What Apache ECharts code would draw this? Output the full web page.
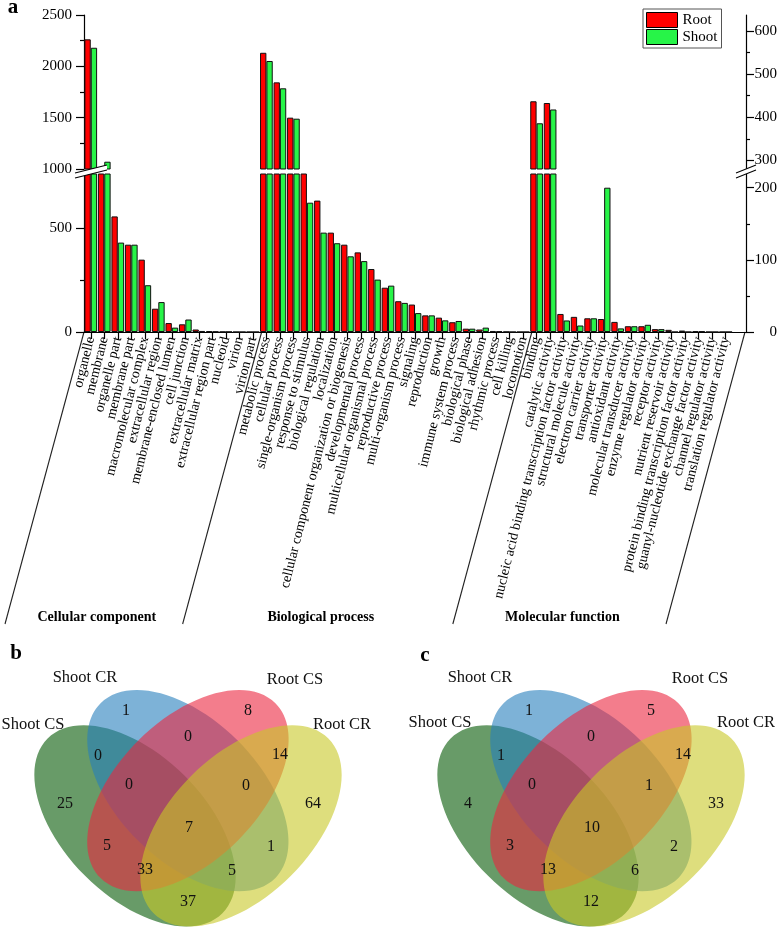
<!DOCTYPE html>
<html><head><meta charset="utf-8">
<script src="https://cdn.jsdelivr.net/npm/echarts@6/dist/echarts.min.js"></script>
<style>html,body{margin:0;padding:0;background:#fff}#c{width:778px;height:927px}</style>
</head><body><div id="c"></div>
<script>
const FONT = '"Times New Roman","Liberation Serif",serif';

// ---------- data ----------
const ccCategories = ['organelle','membrane','organelle part','membrane part','macromolecular complex','extracellular region','membrane-enclosed lumen','cell junction','extracellular matrix','extracellular region part','nucleoid','virion','virion part'];
const bpCategories = ['metabolic process','cellular process','single-organism process','response to stimulus','biological regulation','localization','cellular component organization or biogenesis','developmental process','multicellular organismal process','reproductive process','multi-organism process','signaling','reproduction','growth','immune system process','biological phase','biological adhesion','rhythmic process','cell killing','locomotion'];
const mfCategories = ['binding','catalytic activity','nucleic acid binding transcription factor activity','structural molecule activity','electron carrier activity','transporter activity','antioxidant activity','molecular transducer activity','enzyme regulator activity','receptor activity','nutrient reservoir activity','protein binding transcription factor activity','guanyl-nucleotide exchange factor activity','channel regulator activity','translation regulator activity'];

const ccRoot  = [2263, 1017, 556, 420, 348, 112, 43, 37, 12, 4, 1, 0, 0];
const ccShoot = [2181, 1071, 430, 420, 225, 144, 21, 60, 5, 2, 1, 0, 0];
const bpRoot  = [2132, 1844, 1500, 950, 632, 478, 420, 383, 303, 213, 148, 132, 80, 69, 47, 16, 12, 5, 1, 0];
const bpShoot = [2052, 1786, 1490, 622, 478, 427, 364, 341, 252, 223, 140, 91, 80, 56, 53, 16, 21, 3, 0, 0];
const mfRoot  = [437, 433, 25, 21, 19, 18, 14, 8, 8, 4, 3, 2, 1, 0, 0];
const mfShoot = [386, 418, 16, 9, 19, 200, 5, 8, 10, 4, 0, 0, 1, 0, 0];

const leftLowerTicks = [0, 500],  leftLowerMinor = [250];
const leftUpperTicks = [1000, 1500, 2000, 2500], leftUpperMinor = [1250, 1750, 2250];
const rightLowerTicks = [0, 100, 200], rightLowerMinor = [50, 150];
const rightUpperTicks = [300, 400, 500, 600], rightUpperMinor = [350, 450, 550];

const groupNames = ['Cellular component', 'Biological process', 'Molecular function'];
const seriesNames = ['Root', 'Shoot'];

const vennSets = ['Shoot CS', 'Shoot CR', 'Root CS', 'Root CR'];
// region order: SCR, RCS, SCS, RCR, SCS&SCR, SCR&RCS, RCS&RCR, SCS&SCR&RCS, SCR&RCS&RCR, all, SCS&RCS, SCR&RCR, SCS&RCS&RCR, SCS&SCR&RCR, SCS&RCR
const vennB = [1, 8, 25, 64, 0, 0, 14, 0, 0, 7, 5, 1, 33, 5, 37];
const vennC = [1, 5, 4, 33, 1, 0, 14, 0, 1, 10, 3, 2, 13, 6, 12];

// ---------- layout / style ----------
const RED = '#ff0000', GREEN = '#27f448';
const cats = ccCategories.concat(bpCategories, mfCategories, ['']);
const nCC = ccCategories.length, nBP = bpCategories.length, nMF = mfCategories.length;
const pad = n => Array(n).fill(null);
const leftRoot = ccRoot.concat(bpRoot, pad(nMF + 1));
const leftShoot = ccShoot.concat(bpShoot, pad(nMF + 1));
const rightRoot = pad(nCC + nBP).concat(mfRoot, [null]);
const rightShoot = pad(nCC + nBP).concat(mfShoot, [null]);

function xAx(grid, visible) {
  return {
    type: 'category', gridIndex: grid, data: cats, show: visible, boundaryGap: true,
    axisLine: { show: visible, lineStyle: { color: '#000', width: 1.2 } },
    axisTick: { show: visible, alignWithLabel: true, length: 7, interval: (i) => i < cats.length - 1, lineStyle: { color: '#000', width: 1.2 } },
    axisLabel: { show: visible, interval: 0, rotate: 76, margin: 5, color: '#000', fontFamily: FONT, fontSize: 14 },
    splitLine: { show: false }
  };
}
function yAx(grid, pos, min, max, ticks, len, main) {
  return {
    type: 'value', gridIndex: grid, position: pos, min: min, max: max, offset: 0,
    axisLine: { show: main, lineStyle: { color: '#000', width: 1.2 } },
    axisTick: { show: true, length: len, customValues: ticks, lineStyle: { color: '#000', width: 1.2 } },
    axisLabel: { show: main, customValues: ticks, formatter: v => String(v), color: '#000', fontFamily: FONT, fontSize: 15, margin: pos === 'left' ? 12 : 31, align: 'right' },
    splitLine: { show: false }
  };
}
function bar(name, xi, yi, data, color) {
  return {
    type: 'bar', name: name, xAxisIndex: xi, yAxisIndex: yi, data: data,
    barGap: '0%', barCategoryGap: '6%', clip: true,
    itemStyle: { color: color, borderColor: '#111', borderWidth: 1 },
    emphasis: { disabled: true }, animation: false
  };
}

const chart = echarts.init(document.getElementById('c'));
const option = {
  animation: false,
  backgroundColor: '#fff',
  grid: [
    { left: 84, right: 32, top: 174, height: 158, outerBoundsMode: 'none' },
    { left: 84, right: 32, top: 15, height: 154, outerBoundsMode: 'none' }
  ],
  xAxis: [xAx(0, true), xAx(0, false), xAx(1, false), xAx(1, false)],
  yAxis: [
    yAx(0, 'left', 0, 760, leftLowerTicks, 8, true),
    yAx(0, 'right', 0, 219, rightLowerTicks, 8, true),
    yAx(1, 'left', 1000, 2500, leftUpperTicks, 8, true),
    yAx(1, 'right', 280, 637, rightUpperTicks, 8, true),
    yAx(0, 'left', 0, 760, leftLowerMinor, 4, false),
    yAx(0, 'right', 0, 219, rightLowerMinor, 4, false),
    yAx(1, 'left', 1000, 2500, leftUpperMinor, 4, false),
    yAx(1, 'right', 280, 637, rightUpperMinor, 4, false)
  ],
  legend: {
    data: seriesNames, orient: 'vertical', left: 643, top: 9,
    itemWidth: 31, itemHeight: 15, itemGap: 1, padding: [3, 4, 3, 3],
    borderColor: '#555', borderWidth: 1, icon: 'rect',
    itemStyle: { borderColor: '#000', borderWidth: 1 },
    textStyle: { color: '#000', fontFamily: FONT, fontSize: 15 },
    selectedMode: false
  },
  series: [
    bar(seriesNames[0], 0, 0, leftRoot, RED), bar(seriesNames[1], 0, 0, leftShoot, GREEN),
    bar(seriesNames[0], 1, 1, rightRoot, RED), bar(seriesNames[1], 1, 1, rightShoot, GREEN),
    bar(seriesNames[0], 2, 2, leftRoot, RED), bar(seriesNames[1], 2, 2, leftShoot, GREEN),
    bar(seriesNames[0], 3, 3, rightRoot, RED), bar(seriesNames[1], 3, 3, rightShoot, GREEN)
  ]
};
chart.setOption(option);

// ---------- decorations ----------
const g = [];
const px = i => chart.convertToPixel({ xAxisIndex: 0 }, i);
const w = px(1) - px(0);
const axisY = chart.convertToPixel({ yAxisIndex: 0 }, 0);
const divX = [px(0) - w / 2, (px(nCC - 1) + px(nCC)) / 2 + 2, (px(nCC + nBP - 1) + px(nCC + nBP)) / 2 + 2, px(cats.length - 1) + w / 2 - 1];
const botY = 624, dxs = -79;
divX.forEach(x => g.push({ type: 'line', shape: { x1: x, y1: axisY, x2: x + dxs, y2: botY }, style: { stroke: '#222', lineWidth: 1.1 } }));
groupNames.forEach((t, i) => {
  const mx = (divX[i] + divX[i + 1]) / 2 + dxs + 3;
  g.push({ type: 'text', x: mx, y: 617, style: { text: t, fontFamily: FONT, fontSize: 14, fontWeight: 'bold', fill: '#000', align: 'center', verticalAlign: 'middle' } });
});
// axis break marks
function brk(x1, x2, yc, slope) {
  const h = (x2 - x1) * slope / 2;
  g.push({ type: 'polygon', shape: { points: [[x1, yc - 2.5 + h], [x2, yc - 2.5 - h], [x2, yc + 2.5 - h], [x1, yc + 2.5 + h]] }, style: { fill: '#fff' }, z: 10 });
  g.push({ type: 'line', shape: { x1: x1, y1: yc - 2.5 + h, x2: x2, y2: yc - 2.5 - h }, style: { stroke: '#000', lineWidth: 1.1 }, z: 11 });
  g.push({ type: 'line', shape: { x1: x1, y1: yc + 2.5 + h, x2: x2, y2: yc + 2.5 - h }, style: { stroke: '#000', lineWidth: 1.1 }, z: 11 });
}
brk(75, 107, 171.5, 0.25);
brk(736, 756, 171.5, 0.4);
// panel letters
[['a', 13, 8], ['b', 16, 654], ['c', 425, 656]].forEach(l => g.push({ type: 'text', x: l[1], y: l[2], style: { text: l[0], fontFamily: FONT, fontSize: 21, fontWeight: 'bold', fill: '#000', align: 'center', verticalAlign: 'middle' } }));

// Venn diagrams
const vennFill = ['rgba(3,88,3,0.6)', 'rgba(38,127,188,0.6)', 'rgba(235,38,63,0.6)', 'rgba(200,200,38,0.6)'];
const ellA = 123.6, ellB = 70.6;
const ellOff = [[-53, 35.3, -Math.PI / 4], [0, 0, -Math.PI / 4], [0, 0, Math.PI / 4], [53, 35.3, Math.PI / 4]];
const regionOff = [[-62, -117], [60, -117], [-123, -24], [125, -24], [-90, -72], [0, -91], [92, -73], [-59, -43], [58, -42], [1, 0], [-81, 18], [83, 19], [-43, 42], [44, 43], [0, 74]];
const panels = [
  { cx: 188, cy: 790.6, counts: vennB, labels: [[33, 725], [85, 678], [295, 680], [342, 725]] },
  { cx: 591, cy: 790.6, counts: vennC, labels: [[440, 723], [480, 678], [700, 679], [746, 723]] }
];
panels.forEach(p => {
  ellOff.forEach((e, k) => g.push({ type: 'ellipse', x: p.cx + e[0], y: p.cy + e[1], rotation: e[2], shape: { cx: 0, cy: 0, rx: ellA, ry: ellB }, style: { fill: vennFill[k] } }));
  p.counts.forEach((v, k) => g.push({ type: 'text', x: p.cx + regionOff[k][0], y: 828 + regionOff[k][1], z: 5, style: { text: String(v), fontFamily: FONT, fontSize: 16, fill: '#111', align: 'center', verticalAlign: 'middle' } }));
  vennSets.forEach((s, k) => g.push({ type: 'text', x: p.labels[k][0], y: p.labels[k][1], z: 5, style: { text: s, fontFamily: FONT, fontSize: 16.5, fill: '#111', align: 'center', verticalAlign: 'middle' } }));
});
chart.setOption({ graphic: { elements: g } });
</script></body></html>
